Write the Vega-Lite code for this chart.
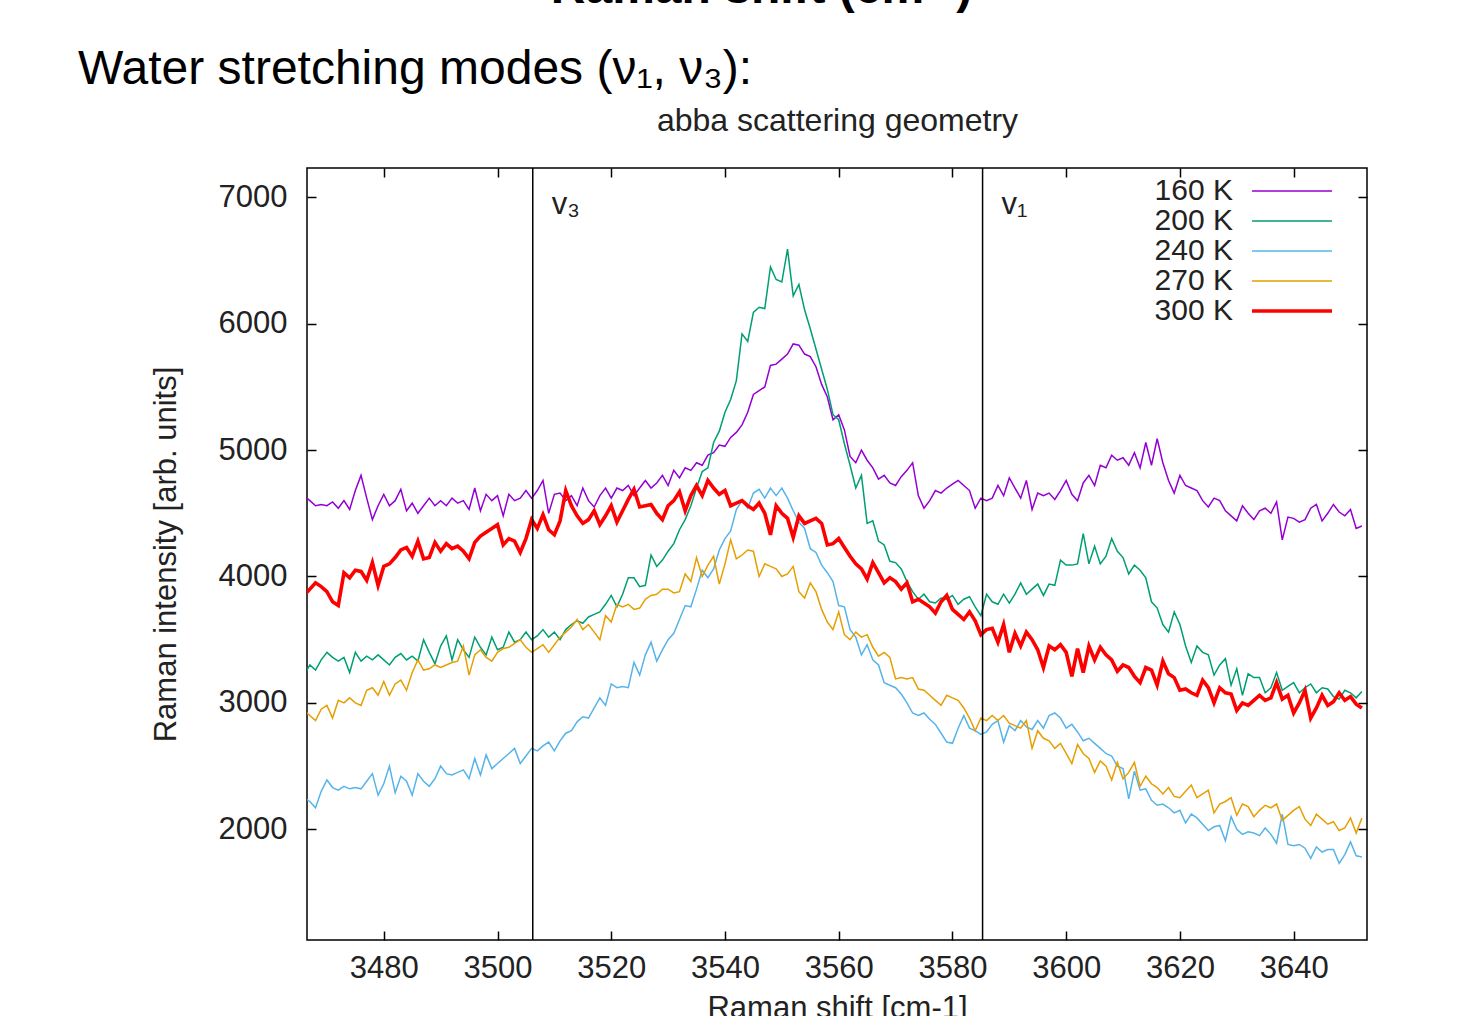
{
 "$schema": "https://vega.github.io/schema/vega-lite/v6.json",
 "width": 1060, "height": 772,
 "autosize": "none",
 "padding": {"left": 307, "top": 168, "right": 109, "bottom": 76},
 "background": "white",
 "config": {
   "view": {"stroke": "black", "strokeWidth": 1.5},
   "font": "Liberation Sans",
   "axis": {"grid": false, "domain": false, "tickColor": "black", "tickWidth": 1.5, "tickSize": -9, "labelFont": "Liberation Sans", "titleFont": "Liberation Sans", "labelFontSize": 31, "titleFontSize": 31, "labelColor": "#222", "titleColor": "#222", "titleFontWeight": "normal"}
 },
 "title": {"text": "Water stretching modes (ν₁, ν₃):", "anchor": "start", "frame": "group", "dx": -229, "dy": 136, "fontSize": 48, "fontWeight": "normal", "color": "black", "font": "Liberation Sans", "offset": 6},
 "datasets": {
  "spectra": [
{"x":3466,"160 K":4640,"200 K":3220,"240 K":2250,"270 K":2940,"300 K":3850},
{"x":3467,"160 K":4600,"200 K":3300,"240 K":2220,"270 K":2900,"300 K":3900},
{"x":3468,"160 K":4560,"200 K":3260,"240 K":2170,"270 K":2860,"300 K":3950},
{"x":3469,"160 K":4570,"200 K":3340,"240 K":2300,"270 K":2950,"300 K":3920},
{"x":3470,"160 K":4560,"200 K":3400,"240 K":2390,"270 K":2980,"300 K":3880},
{"x":3471,"160 K":4590,"200 K":3360,"240 K":2330,"270 K":2880,"300 K":3800},
{"x":3472,"160 K":4540,"200 K":3330,"240 K":2310,"270 K":3020,"300 K":3770},
{"x":3473,"160 K":4600,"200 K":3360,"240 K":2340,"270 K":3000,"300 K":4030},
{"x":3474,"160 K":4530,"200 K":3240,"240 K":2320,"270 K":3040,"300 K":3990},
{"x":3475,"160 K":4680,"200 K":3400,"240 K":2330,"270 K":3000,"300 K":4050},
{"x":3476,"160 K":4800,"200 K":3330,"240 K":2320,"270 K":2980,"300 K":4040},
{"x":3477,"160 K":4620,"200 K":3370,"240 K":2380,"270 K":3100,"300 K":3970},
{"x":3478,"160 K":4450,"200 K":3340,"240 K":2440,"270 K":3120,"300 K":4110},
{"x":3479,"160 K":4560,"200 K":3380,"240 K":2270,"270 K":3060,"300 K":3930},
{"x":3480,"160 K":4650,"200 K":3340,"240 K":2360,"270 K":3170,"300 K":4080},
{"x":3481,"160 K":4560,"200 K":3300,"240 K":2500,"270 K":3060,"300 K":4100},
{"x":3482,"160 K":4600,"200 K":3360,"240 K":2290,"270 K":3150,"300 K":4150},
{"x":3483,"160 K":4690,"200 K":3390,"240 K":2420,"270 K":3180,"300 K":4210},
{"x":3484,"160 K":4520,"200 K":3340,"240 K":2380,"270 K":3100,"300 K":4230},
{"x":3485,"160 K":4580,"200 K":3370,"240 K":2270,"270 K":3240,"300 K":4160},
{"x":3486,"160 K":4500,"200 K":3330,"240 K":2440,"270 K":3340,"300 K":4280},
{"x":3487,"160 K":4560,"200 K":3500,"240 K":2380,"270 K":3260,"300 K":4140},
{"x":3488,"160 K":4620,"200 K":3400,"240 K":2340,"270 K":3270,"300 K":4150},
{"x":3489,"160 K":4560,"200 K":3310,"240 K":2400,"270 K":3300,"300 K":4270},
{"x":3490,"160 K":4600,"200 K":3450,"240 K":2500,"270 K":3280,"300 K":4200},
{"x":3491,"160 K":4560,"200 K":3530,"240 K":2440,"270 K":3300,"300 K":4260},
{"x":3492,"160 K":4620,"200 K":3340,"240 K":2430,"270 K":3320,"300 K":4220},
{"x":3493,"160 K":4580,"200 K":3500,"240 K":2450,"270 K":3330,"300 K":4240},
{"x":3494,"160 K":4600,"200 K":3420,"240 K":2470,"270 K":3450,"300 K":4200},
{"x":3495,"160 K":4530,"200 K":3360,"240 K":2400,"270 K":3220,"300 K":4140},
{"x":3496,"160 K":4700,"200 K":3520,"240 K":2560,"270 K":3380,"300 K":4270},
{"x":3497,"160 K":4520,"200 K":3440,"240 K":2430,"270 K":3420,"300 K":4320},
{"x":3498,"160 K":4650,"200 K":3380,"240 K":2590,"270 K":3360,"300 K":4350},
{"x":3499,"160 K":4600,"200 K":3520,"240 K":2480,"270 K":3330,"300 K":4380},
{"x":3500,"160 K":4640,"200 K":3420,"240 K":2520,"270 K":3400,"300 K":4410},
{"x":3501,"160 K":4480,"200 K":3440,"240 K":2560,"270 K":3430,"300 K":4250},
{"x":3502,"160 K":4650,"200 K":3560,"240 K":2600,"270 K":3440,"300 K":4300},
{"x":3503,"160 K":4600,"200 K":3480,"240 K":2640,"270 K":3470,"300 K":4280},
{"x":3504,"160 K":4620,"200 K":3500,"240 K":2520,"270 K":3500,"300 K":4190},
{"x":3505,"160 K":4680,"200 K":3560,"240 K":2580,"270 K":3440,"300 K":4300},
{"x":3506,"160 K":4620,"200 K":3500,"240 K":2640,"270 K":3400,"300 K":4450},
{"x":3507,"160 K":4680,"200 K":3530,"240 K":2620,"270 K":3430,"300 K":4380},
{"x":3508,"160 K":4760,"200 K":3580,"240 K":2660,"270 K":3460,"300 K":4490},
{"x":3509,"160 K":4500,"200 K":3520,"240 K":2690,"270 K":3400,"300 K":4370},
{"x":3510,"160 K":4650,"200 K":3560,"240 K":2620,"270 K":3460,"300 K":4330},
{"x":3511,"160 K":4660,"200 K":3500,"240 K":2700,"270 K":3520,"300 K":4440},
{"x":3512,"160 K":4600,"200 K":3580,"240 K":2760,"270 K":3560,"300 K":4680},
{"x":3513,"160 K":4640,"200 K":3620,"240 K":2780,"270 K":3600,"300 K":4560},
{"x":3514,"160 K":4560,"200 K":3650,"240 K":2850,"270 K":3660,"300 K":4480},
{"x":3515,"160 K":4700,"200 K":3630,"240 K":2890,"270 K":3580,"300 K":4420},
{"x":3516,"160 K":4600,"200 K":3680,"240 K":2880,"270 K":3620,"300 K":4450},
{"x":3517,"160 K":4550,"200 K":3700,"240 K":2960,"270 K":3560,"300 K":4520},
{"x":3518,"160 K":4640,"200 K":3720,"240 K":3040,"270 K":3500,"300 K":4410},
{"x":3519,"160 K":4700,"200 K":3780,"240 K":2980,"270 K":3690,"300 K":4480},
{"x":3520,"160 K":4620,"200 K":3850,"240 K":3150,"270 K":3640,"300 K":4560},
{"x":3521,"160 K":4700,"200 K":3760,"240 K":3120,"270 K":3780,"300 K":4430},
{"x":3522,"160 K":4680,"200 K":3860,"240 K":3130,"270 K":3760,"300 K":4520},
{"x":3523,"160 K":4720,"200 K":3990,"240 K":3120,"270 K":3780,"300 K":4610},
{"x":3524,"160 K":4640,"200 K":3990,"240 K":3320,"270 K":3740,"300 K":4690},
{"x":3525,"160 K":4700,"200 K":3920,"240 K":3220,"270 K":3750,"300 K":4550},
{"x":3526,"160 K":4760,"200 K":3930,"240 K":3380,"270 K":3820,"300 K":4560},
{"x":3527,"160 K":4700,"200 K":4170,"240 K":3480,"270 K":3850,"300 K":4570},
{"x":3528,"160 K":4740,"200 K":4080,"240 K":3330,"270 K":3860,"300 K":4500},
{"x":3529,"160 K":4800,"200 K":4130,"240 K":3420,"270 K":3900,"300 K":4450},
{"x":3530,"160 K":4720,"200 K":4200,"240 K":3500,"270 K":3900,"300 K":4560},
{"x":3531,"160 K":4840,"200 K":4260,"240 K":3550,"270 K":3870,"300 K":4600},
{"x":3532,"160 K":4780,"200 K":4370,"240 K":3660,"270 K":3880,"300 K":4670},
{"x":3533,"160 K":4860,"200 K":4450,"240 K":3770,"270 K":4020,"300 K":4520},
{"x":3534,"160 K":4840,"200 K":4560,"240 K":3760,"270 K":3960,"300 K":4640},
{"x":3535,"160 K":4900,"200 K":4700,"240 K":3900,"270 K":4150,"300 K":4720},
{"x":3536,"160 K":4880,"200 K":4830,"240 K":4050,"270 K":4000,"300 K":4640},
{"x":3537,"160 K":4960,"200 K":4860,"240 K":3990,"270 K":4090,"300 K":4760},
{"x":3538,"160 K":4980,"200 K":5060,"240 K":4060,"270 K":4160,"300 K":4700},
{"x":3539,"160 K":5040,"200 K":5150,"240 K":4210,"270 K":3940,"300 K":4650},
{"x":3540,"160 K":5030,"200 K":5300,"240 K":4300,"270 K":4100,"300 K":4680},
{"x":3541,"160 K":5100,"200 K":5400,"240 K":4360,"270 K":4290,"300 K":4560},
{"x":3542,"160 K":5140,"200 K":5550,"240 K":4530,"270 K":4140,"300 K":4580},
{"x":3543,"160 K":5200,"200 K":5920,"240 K":4600,"270 K":4170,"300 K":4600},
{"x":3544,"160 K":5300,"200 K":5860,"240 K":4540,"270 K":4210,"300 K":4560},
{"x":3545,"160 K":5440,"200 K":6090,"240 K":4660,"270 K":4200,"300 K":4530},
{"x":3546,"160 K":5470,"200 K":6130,"240 K":4690,"270 K":4000,"300 K":4580},
{"x":3547,"160 K":5500,"200 K":6120,"240 K":4620,"270 K":4100,"300 K":4500},
{"x":3548,"160 K":5670,"200 K":6450,"240 K":4700,"270 K":4080,"300 K":4330},
{"x":3549,"160 K":5680,"200 K":6350,"240 K":4640,"270 K":4060,"300 K":4560},
{"x":3550,"160 K":5720,"200 K":6330,"240 K":4700,"270 K":4000,"300 K":4500},
{"x":3551,"160 K":5760,"200 K":6590,"240 K":4620,"270 K":4020,"300 K":4460},
{"x":3552,"160 K":5840,"200 K":6220,"240 K":4520,"270 K":4080,"300 K":4310},
{"x":3553,"160 K":5830,"200 K":6310,"240 K":4430,"270 K":3880,"300 K":4480},
{"x":3554,"160 K":5760,"200 K":6110,"240 K":4380,"270 K":3830,"300 K":4420},
{"x":3555,"160 K":5740,"200 K":5960,"240 K":4220,"270 K":3950,"300 K":4440},
{"x":3556,"160 K":5660,"200 K":5800,"240 K":4190,"270 K":3880,"300 K":4460},
{"x":3557,"160 K":5520,"200 K":5640,"240 K":4090,"270 K":3740,"300 K":4420},
{"x":3558,"160 K":5420,"200 K":5480,"240 K":4030,"270 K":3640,"300 K":4250},
{"x":3559,"160 K":5240,"200 K":5280,"240 K":3960,"270 K":3580,"300 K":4260},
{"x":3560,"160 K":5280,"200 K":5240,"240 K":3770,"270 K":3720,"300 K":4300},
{"x":3561,"160 K":5160,"200 K":5050,"240 K":3760,"270 K":3540,"300 K":4230},
{"x":3562,"160 K":4950,"200 K":4880,"240 K":3580,"270 K":3500,"300 K":4160},
{"x":3563,"160 K":4900,"200 K":4700,"240 K":3520,"270 K":3560,"300 K":4100},
{"x":3564,"160 K":5000,"200 K":4800,"240 K":3380,"270 K":3520,"300 K":4060},
{"x":3565,"160 K":4920,"200 K":4420,"240 K":3460,"270 K":3540,"300 K":3980},
{"x":3566,"160 K":4860,"200 K":4440,"240 K":3340,"270 K":3440,"300 K":4110},
{"x":3567,"160 K":4770,"200 K":4280,"240 K":3300,"270 K":3370,"300 K":4030},
{"x":3568,"160 K":4800,"200 K":4250,"240 K":3160,"270 K":3400,"300 K":3950},
{"x":3569,"160 K":4740,"200 K":4120,"240 K":3140,"270 K":3360,"300 K":3990},
{"x":3570,"160 K":4720,"200 K":4110,"240 K":3120,"270 K":3190,"300 K":3960},
{"x":3571,"160 K":4790,"200 K":4060,"240 K":3070,"270 K":3200,"300 K":3900},
{"x":3572,"160 K":4840,"200 K":3960,"240 K":3000,"270 K":3190,"300 K":3950},
{"x":3573,"160 K":4900,"200 K":3880,"240 K":2920,"270 K":3200,"300 K":3800},
{"x":3574,"160 K":4640,"200 K":3820,"240 K":2900,"270 K":3110,"300 K":3820},
{"x":3575,"160 K":4540,"200 K":3860,"240 K":2920,"270 K":3100,"300 K":3790},
{"x":3576,"160 K":4600,"200 K":3800,"240 K":2870,"270 K":3060,"300 K":3760},
{"x":3577,"160 K":4680,"200 K":3790,"240 K":2830,"270 K":3020,"300 K":3710},
{"x":3578,"160 K":4660,"200 K":3830,"240 K":2760,"270 K":2980,"300 K":3800},
{"x":3579,"160 K":4700,"200 K":3820,"240 K":2690,"270 K":3060,"300 K":3850},
{"x":3580,"160 K":4730,"200 K":3850,"240 K":2680,"270 K":3040,"300 K":3740},
{"x":3581,"160 K":4760,"200 K":3780,"240 K":2800,"270 K":3020,"300 K":3700},
{"x":3582,"160 K":4720,"200 K":3820,"240 K":2900,"270 K":2960,"300 K":3660},
{"x":3583,"160 K":4680,"200 K":3840,"240 K":2800,"270 K":2880,"300 K":3720},
{"x":3584,"160 K":4540,"200 K":3760,"240 K":2780,"270 K":2780,"300 K":3650},
{"x":3585,"160 K":4620,"200 K":3690,"240 K":2750,"270 K":2880,"300 K":3540},
{"x":3586,"160 K":4600,"200 K":3860,"240 K":2770,"270 K":2860,"300 K":3580},
{"x":3587,"160 K":4620,"200 K":3800,"240 K":2830,"270 K":2900,"300 K":3590},
{"x":3588,"160 K":4720,"200 K":3780,"240 K":2860,"270 K":2860,"300 K":3480},
{"x":3589,"160 K":4640,"200 K":3860,"240 K":2690,"270 K":2900,"300 K":3620},
{"x":3590,"160 K":4780,"200 K":3790,"240 K":2820,"270 K":2840,"300 K":3400},
{"x":3591,"160 K":4700,"200 K":3860,"240 K":2780,"270 K":2820,"300 K":3550},
{"x":3592,"160 K":4620,"200 K":3950,"240 K":2860,"270 K":2800,"300 K":3450},
{"x":3593,"160 K":4760,"200 K":3860,"240 K":2810,"270 K":2860,"300 K":3560},
{"x":3594,"160 K":4530,"200 K":3900,"240 K":2790,"270 K":2640,"300 K":3500},
{"x":3595,"160 K":4660,"200 K":3940,"240 K":2860,"270 K":2780,"300 K":3420},
{"x":3596,"160 K":4640,"200 K":3850,"240 K":2800,"270 K":2720,"300 K":3280},
{"x":3597,"160 K":4660,"200 K":3940,"240 K":2900,"270 K":2700,"300 K":3450},
{"x":3598,"160 K":4610,"200 K":3930,"240 K":2920,"270 K":2640,"300 K":3420},
{"x":3599,"160 K":4680,"200 K":4130,"240 K":2880,"270 K":2680,"300 K":3460},
{"x":3600,"160 K":4760,"200 K":4090,"240 K":2800,"270 K":2600,"300 K":3400},
{"x":3601,"160 K":4650,"200 K":4090,"240 K":2830,"270 K":2520,"300 K":3210},
{"x":3602,"160 K":4600,"200 K":4100,"240 K":2770,"270 K":2670,"300 K":3430},
{"x":3603,"160 K":4740,"200 K":4340,"240 K":2700,"270 K":2600,"300 K":3240},
{"x":3604,"160 K":4800,"200 K":4100,"240 K":2720,"270 K":2560,"300 K":3450},
{"x":3605,"160 K":4720,"200 K":4240,"240 K":2680,"270 K":2450,"300 K":3340},
{"x":3606,"160 K":4880,"200 K":4100,"240 K":2640,"270 K":2540,"300 K":3440},
{"x":3607,"160 K":4860,"200 K":4160,"240 K":2600,"270 K":2500,"300 K":3380},
{"x":3608,"160 K":4960,"200 K":4300,"240 K":2580,"270 K":2390,"300 K":3340},
{"x":3609,"160 K":4920,"200 K":4200,"240 K":2500,"270 K":2530,"300 K":3250},
{"x":3610,"160 K":4940,"200 K":4150,"240 K":2480,"270 K":2400,"300 K":3300},
{"x":3611,"160 K":4880,"200 K":4020,"240 K":2240,"270 K":2450,"300 K":3280},
{"x":3612,"160 K":4980,"200 K":4090,"240 K":2460,"270 K":2530,"300 K":3210},
{"x":3613,"160 K":4860,"200 K":4050,"240 K":2310,"270 K":2340,"300 K":3160},
{"x":3614,"160 K":5060,"200 K":3990,"240 K":2320,"270 K":2420,"300 K":3280},
{"x":3615,"160 K":4880,"200 K":3800,"240 K":2230,"270 K":2360,"300 K":3260},
{"x":3616,"160 K":5090,"200 K":3750,"240 K":2190,"270 K":2330,"300 K":3140},
{"x":3617,"160 K":4900,"200 K":3620,"240 K":2200,"270 K":2280,"300 K":3330},
{"x":3618,"160 K":4760,"200 K":3560,"240 K":2170,"270 K":2330,"300 K":3230},
{"x":3619,"160 K":4660,"200 K":3720,"240 K":2130,"270 K":2260,"300 K":3200},
{"x":3620,"160 K":4800,"200 K":3620,"240 K":2150,"270 K":2250,"300 K":3100},
{"x":3621,"160 K":4720,"200 K":3450,"240 K":2050,"270 K":2300,"300 K":3110},
{"x":3622,"160 K":4700,"200 K":3320,"240 K":2120,"270 K":2350,"300 K":3080},
{"x":3623,"160 K":4680,"200 K":3450,"240 K":2090,"270 K":2250,"300 K":3060},
{"x":3624,"160 K":4600,"200 K":3400,"240 K":2040,"270 K":2280,"300 K":3180},
{"x":3625,"160 K":4550,"200 K":3380,"240 K":1990,"270 K":2310,"300 K":3120},
{"x":3626,"160 K":4620,"200 K":3220,"240 K":2020,"270 K":2130,"300 K":3000},
{"x":3627,"160 K":4600,"200 K":3300,"240 K":2030,"270 K":2200,"300 K":3120},
{"x":3628,"160 K":4520,"200 K":3350,"240 K":1910,"270 K":2220,"300 K":3080},
{"x":3629,"160 K":4480,"200 K":3140,"240 K":2100,"270 K":2250,"300 K":3070},
{"x":3630,"160 K":4440,"200 K":3270,"240 K":2000,"270 K":2110,"300 K":2940},
{"x":3631,"160 K":4560,"200 K":3060,"240 K":1960,"270 K":2200,"300 K":3000},
{"x":3632,"160 K":4500,"200 K":3230,"240 K":1980,"270 K":2180,"300 K":2980},
{"x":3633,"160 K":4450,"200 K":3200,"240 K":1970,"270 K":2100,"300 K":3020},
{"x":3634,"160 K":4520,"200 K":3200,"240 K":1950,"270 K":2150,"300 K":3060},
{"x":3635,"160 K":4540,"200 K":3080,"240 K":2010,"270 K":2190,"300 K":3020},
{"x":3636,"160 K":4500,"200 K":3120,"240 K":1960,"270 K":2170,"300 K":3040},
{"x":3637,"160 K":4590,"200 K":3240,"240 K":1890,"270 K":2200,"300 K":3160},
{"x":3638,"160 K":4290,"200 K":3100,"240 K":2120,"270 K":2070,"300 K":3030},
{"x":3639,"160 K":4470,"200 K":3130,"240 K":1880,"270 K":2110,"300 K":3060},
{"x":3640,"160 K":4460,"200 K":3160,"240 K":1870,"270 K":2150,"300 K":2920},
{"x":3641,"160 K":4430,"200 K":3080,"240 K":1880,"270 K":2180,"300 K":3000},
{"x":3642,"160 K":4450,"200 K":3120,"240 K":1850,"270 K":2080,"300 K":3100},
{"x":3643,"160 K":4540,"200 K":3150,"240 K":1770,"270 K":2030,"300 K":2880},
{"x":3644,"160 K":4570,"200 K":3080,"240 K":1860,"270 K":2120,"300 K":2960},
{"x":3645,"160 K":4440,"200 K":3120,"240 K":1820,"270 K":2080,"300 K":3060},
{"x":3646,"160 K":4500,"200 K":3110,"240 K":1840,"270 K":2040,"300 K":2980},
{"x":3647,"160 K":4570,"200 K":3050,"240 K":1840,"270 K":2060,"300 K":3010},
{"x":3648,"160 K":4510,"200 K":3030,"240 K":1730,"270 K":1990,"300 K":3080},
{"x":3649,"160 K":4480,"200 K":3100,"240 K":1800,"270 K":2010,"300 K":3020},
{"x":3650,"160 K":4530,"200 K":3080,"240 K":1900,"270 K":2090,"300 K":3050},
{"x":3651,"160 K":4380,"200 K":3040,"240 K":1790,"270 K":1970,"300 K":2990},
{"x":3652,"160 K":4400,"200 K":3090,"240 K":1780,"270 K":2090,"300 K":2960}
  ],
  "modes": [{"pos": 3506.2, "label": "v₃"}, {"pos": 3585.3, "label": "v₁"}]
 },
 "resolve": {"axis": {"x": "independent", "y": "independent"}},
 "layer": [
  {
   "data": {"name": "spectra"},
   "transform": [{"fold": ["160 K", "200 K", "240 K", "270 K", "300 K"], "as": ["series", "intensity"]}],
   "mark": {"type": "line", "clip": true},
   "encoding": {
     "x": {"field": "x", "type": "quantitative", "scale": {"domain": [3466.5, 3652.9], "nice": false, "zero": false},
           "axis": {"orient": "bottom", "values": [3480, 3500, 3520, 3540, 3560, 3580, 3600, 3620, 3640], "format": "d", "labelPadding": 22, "title": "Raman shift [cm-1]", "titlePadding": 10}},
     "y": {"field": "intensity", "type": "quantitative", "scale": {"domain": [1124, 7232], "nice": false, "zero": false},
           "axis": {"orient": "left", "values": [2000, 3000, 4000, 5000, 6000, 7000], "format": "d", "labelPadding": 29, "title": "Raman intensity [arb. units]", "titlePadding": 36}},
     "color": {"field": "series", "type": "nominal",
               "scale": {"domain": ["160 K", "200 K", "240 K", "270 K", "300 K"], "range": ["#9400d3", "#009e73", "#56b4e9", "#e69f00", "#ff0000"]},
               "legend": {"title": null, "orient": "none", "legendX": 970, "legendY": 8, "symbolType": "M-5,0H5", "symbolSize": 256, "labelAlign": "right", "labelOffset": -74, "labelFontSize": 30, "labelColor": "#222", "labelFont": "Liberation Sans", "rowPadding": -1, "padding": 0}},
     "strokeWidth": {"field": "series", "type": "nominal",
               "scale": {"type": "ordinal", "domain": ["160 K", "200 K", "240 K", "270 K", "300 K"], "range": [1.5, 1.5, 1.5, 1.5, 3.6]},
               "legend": {"title": null, "orient": "none", "legendX": 970, "legendY": 8, "symbolType": "M-5,0H5", "symbolSize": 256, "labelAlign": "right", "labelOffset": -74, "labelFontSize": 30, "labelColor": "#222", "labelFont": "Liberation Sans", "rowPadding": -1, "padding": 0}}
   }
  },
  {
   "data": {"name": "modes"},
   "mark": {"type": "rule", "color": "black", "strokeWidth": 1.5},
   "encoding": {"x": {"field": "pos", "type": "quantitative", "axis": null}}
  },
  {
   "data": {"name": "modes"},
   "mark": {"type": "text", "align": "left", "baseline": "alphabetic", "dx": 19, "fontSize": 31, "color": "#222", "font": "Liberation Sans"},
   "encoding": {
     "x": {"field": "pos", "type": "quantitative",
           "axis": {"orient": "top", "values": [3480, 3500, 3520, 3540, 3560, 3580, 3600, 3620, 3640], "labels": false, "title": "abba scattering geometry", "titlePadding": 30, "titleFontSize": 32}},
     "y": {"datum": 6868, "type": "quantitative",
           "axis": {"orient": "right", "values": [2000, 3000, 4000, 5000, 6000, 7000], "labels": false, "title": "Raman shift (cm⁻¹)", "titleAngle": 0, "titleX": -606, "titleY": -166, "titleAlign": "center", "titleBaseline": "alphabetic", "titleFontSize": 48, "titleFontWeight": "bold", "titleColor": "black"}},
     "text": {"field": "label"}
   }
  }
 ]
}
